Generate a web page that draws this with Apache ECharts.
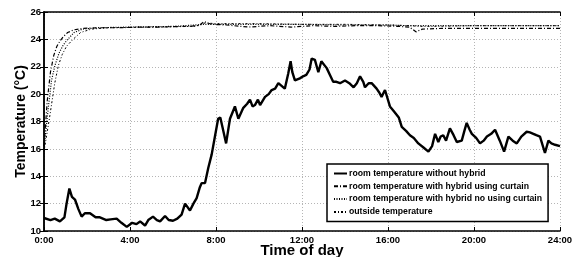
<!DOCTYPE html>
<html>
<head>
<meta charset="utf-8">
<script src="https://cdn.jsdelivr.net/npm/echarts@6/dist/echarts.min.js"></script>
<style>
  html, body { margin: 0; padding: 0; background: #fff; }
  #chart { width: 581px; height: 257px; }
</style>
</head>
<body>
<div id="chart"></div>
<script>
// tick labels
const xTicks = [0, 4, 8, 12, 16, 20, 24]
const yTicks = [10, 12, 14, 16, 18, 20, 22, 24, 26]

const seriesNames = [
  'room temperature without hybrid',
  'room temperature with hybrid using curtain',
  'room temperature with hybrid no using curtain',
  'outside temperature'
]

// room temperature without hybrid (hour of day, °C)
const noHybridHours = [0, 0.3, 0.5, 0.74, 0.95, 1.05, 1.18, 1.3, 1.44, 1.6, 1.75, 1.9, 2.14, 2.4, 2.6, 2.9, 3.1, 3.38, 3.6, 3.85,
  4.1, 4.3, 4.47, 4.7, 4.85, 5.07, 5.25, 5.4, 5.63, 5.8, 6.0, 6.2, 6.4, 6.56, 6.79, 6.95, 7.1, 7.25, 7.33, 7.49,
  7.64, 7.8, 7.95, 8.1, 8.2, 8.3, 8.47, 8.65, 8.88, 9.04, 9.27, 9.45, 9.58, 9.7, 9.81, 9.95, 10.05, 10.28, 10.45, 10.59,
  10.75, 10.9, 11.05, 11.2, 11.36, 11.47, 11.55, 11.67, 11.9, 12.05, 12.2, 12.35, 12.45, 12.6, 12.76, 12.9, 13.15, 13.3, 13.45, 13.6,
  13.77, 14.0, 14.2, 14.4, 14.55, 14.7, 14.85, 14.93, 15.1, 15.24, 15.47, 15.6, 15.7, 15.86, 16.09, 16.3, 16.5, 16.64, 16.85, 17.02,
  17.2, 17.41, 17.65, 17.88, 18.05, 18.19, 18.34, 18.45, 18.57, 18.7, 18.88, 19.05, 19.2, 19.43, 19.55, 19.66, 19.8, 19.9, 20.1, 20.28,
  20.45, 20.6, 20.8, 20.98, 21.2, 21.4, 21.6, 21.8, 21.99, 22.2, 22.45, 22.6, 22.76, 22.9, 23.07, 23.3, 23.46, 23.6, 23.77, 24]
const noHybridTemps = [10.95, 10.8, 10.9, 10.7, 11.0, 12.0, 13.1, 12.5, 12.3, 11.6, 11.05, 11.3, 11.3, 11.0, 11.0, 10.8, 10.85, 10.9, 10.6, 10.3,
  10.6, 10.5, 10.7, 10.4, 10.8, 11.05, 10.8, 10.7, 11.1, 10.8, 10.75, 10.9, 11.2, 12.0, 11.5, 12.0, 12.4, 13.2, 13.5, 13.5,
  14.6, 15.6, 16.9, 18.2, 18.3, 17.6, 16.4, 18.2, 19.1, 18.2, 19.0, 19.3, 19.6, 19.1, 19.2, 19.6, 19.2, 19.8, 20.0, 20.3,
  20.4, 20.8, 20.6, 20.4, 21.5, 22.4, 21.6, 21.0, 21.15, 21.3, 21.4, 21.8, 22.6, 22.5, 21.6, 22.4, 21.9, 21.4, 20.9, 20.9,
  20.8, 21.0, 20.8, 20.5, 20.8, 21.3, 20.9, 20.5, 20.8, 20.8, 20.4, 20.1, 19.8, 20.3, 19.1, 18.7, 18.3, 17.6, 17.3, 17.0,
  16.8, 16.4, 16.1, 15.8, 16.2, 17.1, 16.5, 16.9, 17.0, 16.6, 17.5, 17.0, 16.5, 16.6, 17.3, 17.9, 17.4, 17.1, 16.8, 16.4,
  16.6, 16.9, 17.1, 17.4, 16.6, 15.8, 16.9, 16.6, 16.4, 16.9, 17.25, 17.2, 17.1, 17.0, 16.9, 15.7, 16.6, 16.4, 16.3, 16.2]

// room temperature with hybrid using curtain
const curtainHours = [0, 0.15, 0.3, 0.45, 0.6, 0.75, 0.9, 1.1, 1.4, 1.8, 2.5, 3.5, 4.5, 5.5, 6.5, 7.2, 7.45, 7.6, 7.8, 8.5,
  9.5, 10.5, 11.5, 12.5, 13.5, 14.5, 15.5, 16.5, 17.0, 17.3, 17.6, 18.5, 20, 22, 24]
const curtainTemps = [16.2, 19.5, 21.6, 22.8, 23.5, 23.9, 24.2, 24.5, 24.7, 24.8, 24.85, 24.85, 24.9, 24.9, 24.95, 25.0, 25.3, 25.2, 25.1, 25.05,
  24.9, 25.0, 24.9, 25.0, 24.95, 25.0, 25.0, 24.95, 24.9, 24.55, 24.75, 24.8, 24.8, 24.8, 24.8]

// room temperature with hybrid no using curtain
const noCurtainHours = [0, 0.2, 0.35, 0.51, 0.7, 0.9, 1.1, 1.4, 1.8, 2.5, 4, 6, 7.5, 8, 10, 12, 14, 16, 17, 18, 20, 22, 24]
const noCurtainTemps = [16.0, 19.0, 21.0, 22.1, 23.0, 23.6, 24.0, 24.5, 24.75, 24.85, 24.9, 24.95, 25.1, 25.1, 25.1, 25.1, 25.05, 25.05, 25.0, 25.0, 25.0, 25.0, 25.0]

// outside temperature
const outsideHours = [0, 0.25, 0.5, 0.67, 0.85, 1.05, 1.35, 1.7, 2.2, 3, 5, 7, 7.5, 8, 10, 12, 14, 16, 17, 17.5, 18, 20, 22, 24]
const outsideTemps = [15.8, 18.2, 20.8, 22.1, 22.9, 23.5, 24.0, 24.5, 24.75, 24.85, 24.9, 24.95, 25.2, 25.15, 25.15, 25.1, 25.1, 25.05, 25.0, 24.95, 24.95, 25.0, 25.0, 25.0]

const pairs = (hours, temps) => hours.map((h, i) => [h, temps[i]])

const font = 'Liberation Sans, Arial, sans-serif'
const tickLabel = { color: '#000', fontFamily: font, fontWeight: 'bold', fontSize: 9.5 }
const frame = { lineStyle: { color: '#000', width: 1.5 } }
const grid = { lineStyle: { color: '#b5b5b5', type: [1, 2], width: 1 } }

const createOptions = () => {
  const xBase = { type: 'value', min: xTicks[0], max: xTicks[xTicks.length - 1], interval: 4, axisLine: frame }
  const yBase = { type: 'value', min: yTicks[0], max: yTicks[yTicks.length - 1], interval: 2, axisLine: frame }
  const makeLine = (name, data, width, dash) => ({
    name,
    type: 'line',
    data,
    symbol: 'none',
    animation: false,
    lineStyle: { color: '#000', width, type: dash },
    itemStyle: { color: '#000' }
  })
  return {
    animation: false,
    grid: { left: 44, right: 21, top: 12, bottom: 26, containLabel: false, outerBoundsMode: 'none' },
    legend: {
      orient: 'vertical',
      left: 327,
      top: 164,
      width: 216,
      padding: [5, 6, 5, 6],
      itemWidth: 13,
      itemHeight: 10,
      itemGap: 3.8,
      itemStyle: { opacity: 0 },
      backgroundColor: '#fff',
      borderColor: '#000',
      borderWidth: 1.5,
      borderRadius: 0,
      textStyle: { color: '#000', fontFamily: font, fontWeight: 'bold', fontSize: 8.7, padding: [0, 0, 0, -3] },
      data: seriesNames
    },
    xAxis: [
      {
        ...xBase,
        position: 'bottom',
        name: 'Time of day',
        nameLocation: 'middle',
        nameGap: 12,
        nameMoveOverlap: false,
        nameTextStyle: { color: '#000', fontFamily: font, fontWeight: 'bold', fontSize: 15 },
        axisTick: { inside: true, length: 4, lineStyle: { color: '#000' } },
        axisLabel: { ...tickLabel, margin: 4, formatter: (v) => `${v}:00` },
        splitLine: { show: true, ...grid }
      },
      {
        ...xBase,
        position: 'top',
        axisTick: { inside: true, length: 4, lineStyle: { color: '#000' } },
        axisLabel: { show: false },
        splitLine: { show: false }
      }
    ],
    yAxis: [
      {
        ...yBase,
        position: 'left',
        name: 'Temperature (°C)',
        nameLocation: 'middle',
        nameGap: 16,
        nameMoveOverlap: false,
        nameTextStyle: { color: '#000', fontFamily: font, fontWeight: 'bold', fontSize: 14 },
        axisTick: { inside: true, length: 4, lineStyle: { color: '#000' } },
        axisLabel: { ...tickLabel, margin: 3 },
        splitLine: { show: true, ...grid }
      },
      {
        ...yBase,
        position: 'right',
        axisTick: { inside: true, length: 4, lineStyle: { color: '#000' } },
        axisLabel: { show: false },
        splitLine: { show: false }
      }
    ],
    series: [
      makeLine(seriesNames[0], pairs(noHybridHours, noHybridTemps), 2.4, 'solid'),
      makeLine(seriesNames[1], pairs(curtainHours, curtainTemps), 1.2, [4, 2, 1, 2]),
      makeLine(seriesNames[2], pairs(noCurtainHours, noCurtainTemps), 1.2, [1, 1.5]),
      makeLine(seriesNames[3], pairs(outsideHours, outsideTemps), 1, [2, 2, 1, 2])
    ]
  }
}

const chart = echarts.init(document.getElementById('chart'), null, { renderer: 'canvas' })
chart.setOption(createOptions())
</script>
</body>
</html>
